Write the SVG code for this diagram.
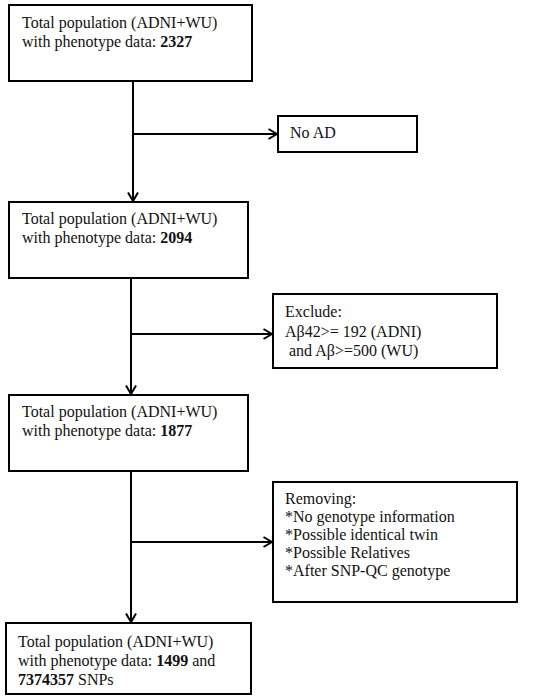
<svg xmlns="http://www.w3.org/2000/svg" width="533" height="700" viewBox="0 0 533 700">
<style>
rect.box{fill:#fff;stroke:#000;stroke-width:2}
text{font-family:"Liberation Serif","Times New Roman",serif;font-size:16px;fill:#111}
.b{font-weight:bold}
.c{fill:none;stroke:#000;stroke-width:2}
</style>
<defs>
<marker id="ah" viewBox="0 0 10 12" refX="9.5" refY="6" markerWidth="10" markerHeight="12" markerUnits="userSpaceOnUse" orient="auto">
<path d="M1,1 L9.5,6 L1,11" fill="none" stroke="#000" stroke-width="2"/>
</marker>
</defs>
<rect width="533" height="700" fill="#fff"/>
<g id="connectors">
<line class="c" x1="133" y1="81" x2="133" y2="201" marker-end="url(#ah)"/>
<line class="c" x1="133" y1="134" x2="277" y2="134" marker-end="url(#ah)"/>
<line class="c" x1="131" y1="278" x2="131" y2="394" marker-end="url(#ah)"/>
<line class="c" x1="131" y1="334" x2="272" y2="334" marker-end="url(#ah)"/>
<line class="c" x1="131" y1="471" x2="131" y2="622" marker-end="url(#ah)"/>
<line class="c" x1="131" y1="542" x2="272" y2="542" marker-end="url(#ah)"/>
</g>
<g id="n1">
<rect class="box" x="9" y="5" width="243" height="76"/>
<text x="22" y="28">Total population (ADNI+WU)</text>
<text x="22" y="47">with phenotype data: <tspan class="b">2327</tspan></text>
</g>
<g id="n2">
<rect class="box" x="278" y="116" width="139" height="36"/>
<text x="290" y="138">No AD</text>
</g>
<g id="n3">
<rect class="box" x="9" y="202" width="239" height="76"/>
<text x="22" y="224">Total population (ADNI+WU)</text>
<text x="22" y="243">with phenotype data: <tspan class="b">2094</tspan></text>
</g>
<g id="n4">
<rect class="box" x="273" y="294" width="224" height="74"/>
<text x="285" y="317">Exclude:</text>
<text x="285" y="337">Aβ42&gt;= 192 (ADNI)</text>
<text x="285" y="356" xml:space="preserve"> and Aβ&gt;=500 (WU)</text>
</g>
<g id="n5">
<rect class="box" x="9" y="395" width="239" height="76"/>
<text x="22" y="417">Total population (ADNI+WU)</text>
<text x="22" y="436">with phenotype data: <tspan class="b">1877</tspan></text>
</g>
<g id="n6">
<rect class="box" x="273" y="482" width="244" height="120"/>
<text x="285" y="504">Removing:</text>
<text x="285" y="522">*No genotype information</text>
<text x="285" y="540">*Possible identical twin</text>
<text x="285" y="558">*Possible Relatives</text>
<text x="285" y="576">*After SNP-QC genotype</text>
</g>
<g id="n7">
<rect class="box" x="6" y="623" width="245" height="71"/>
<text x="18" y="647">Total population (ADNI+WU)</text>
<text x="18" y="666">with phenotype data: <tspan class="b">1499</tspan> and</text>
<text x="18" y="685"><tspan class="b">7374357</tspan> SNPs</text>
</g>
</svg>
